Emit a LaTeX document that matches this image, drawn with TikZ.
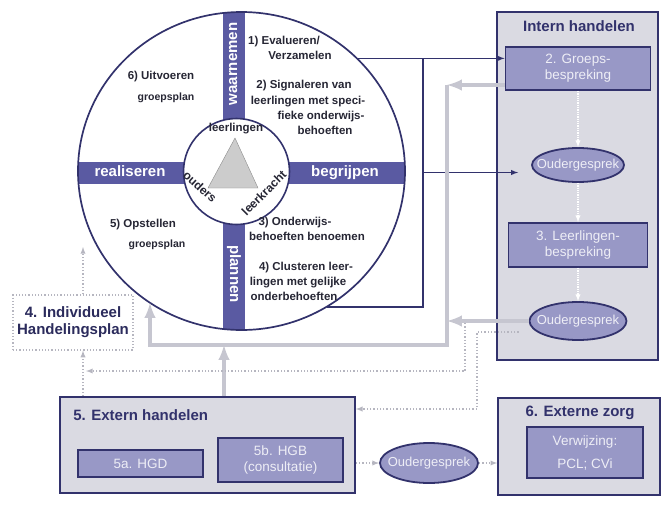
\documentclass[tikz,border=0pt]{standalone}
\usepackage{fontspec}
\setmainfont{Liberation Sans}
\usetikzlibrary{positioning}
\usetikzlibrary{shapes.geometric}

\definecolor{navy}{RGB}{50,50,108}
\definecolor{barblue}{RGB}{90,90,162}
\definecolor{lavender}{RGB}{152,152,198}
\definecolor{panelgrey}{RGB}{218,218,226}
\definecolor{flowgrey}{RGB}{198,198,208}
\definecolor{dotgrey}{RGB}{182,182,192}
\definecolor{paletext}{RGB}{238,238,246}
\definecolor{ink}{RGB}{38,38,52}

\begin{document}
\begin{tikzpicture}[x=1pt, y=-1pt, -latex, on grid, semithick,
                    wheeltext/.style = {font=\bfseries\fontsize{11.5}{13}\selectfont,
                                        text=ink, inner sep=0pt,
                                        text height=8pt, text depth=2.5pt},
                    smalltext/.style = {font=\bfseries\fontsize{10.5}{12}\selectfont,
                                        text=ink, inner sep=0pt,
                                        text height=7.5pt, text depth=2pt},
                    bartext/.style   = {font=\bfseries\fontsize{15}{17}\selectfont,
                                        text=white, inner sep=0pt,
                                        text height=10pt, text depth=3pt},
                    headtext/.style  = {font=\bfseries\fontsize{15}{17}\selectfont,
                                        text=navy, inner sep=0pt, align=center},
                    panel/.style     = {rectangle, draw=navy, fill=panelgrey,
                                        line width=1.6pt},
                    box/.style       = {rectangle, draw=navy, fill=lavender,
                                        line width=1.8pt, text=paletext,
                                        font=\fontsize{13.5}{16}\selectfont,
                                        align=center, inner sep=0pt},
                    oval/.style      = {ellipse, draw=navy, fill=lavender,
                                        line width=1.8pt, inner sep=0pt},
                    ovaltext/.style  = {text=paletext, inner sep=0pt,
                                        font=\fontsize{13}{15}\selectfont},
                    navyline/.style  = {draw=navy, line width=1.4pt},
                    greyflow/.style  = {draw=flowgrey, line width=4pt},
                    dotflow/.style   = {draw=dotgrey, line width=1.3pt, dotted},
                    whiteflow/.style = {draw=white, line width=1.3pt, densely dotted}]

\useasboundingbox (0,0) rectangle (662,504);

% the wheel with its four bars
\begin{scope}
  \clip (241.5,171) ellipse [x radius=163.5, y radius=159];
  \fill[barblue] (222.5,0) rectangle (244.5,340);
  \fill[barblue] (70,161.5) rectangle (420,183.5);
\end{scope}
\node[ellipse, draw=navy, line width=1.7pt,
      minimum width=327pt, minimum height=318pt] (wheel) at (241.5,171) {};
\node[circle, draw=navy, fill=white, line width=1.6pt,
      minimum size=106pt] (hub) at (236.5,171.5) {};
\draw[-, draw=black!45, fill=black!20, thin] (235,138) -- (208,188) -- (258,188) -- cycle;

\node[bartext, rotate=90]  (waar) at (233.5,64)  {waarnemen};
\node[bartext, rotate=-90] (plan) at (233.5,274) {plannen};
\node[bartext] (real) at (130,172.5) {realiseren};
\node[bartext] (begr) at (345,172.5) {begrijpen};

\node[wheeltext] (leer) at (236,129) {leerlingen};
\node[wheeltext, font=\bfseries\fontsize{12}{14}\selectfont, rotate=-42] (ouders) at (199,188) {ouders};
\node[wheeltext, font=\bfseries\fontsize{12}{14}\selectfont, rotate=45] (kracht) at (265,194) {leerkracht};

% the six steps
\node[wheeltext] (e1) at (284,42)  {1) Evalueren/};
\node[wheeltext] (e2) at (300,57)  {Verzamelen};
\node[wheeltext] (s1) at (304,86)  {2) Signaleren van};
\node[wheeltext] (s2) at (308,102) {leerlingen met speci-};
\node[wheeltext] (s3) at (321,117) {fieke onderwijs-};
\node[wheeltext] (s4) at (325,132) {behoeften};
\node[wheeltext] (b1) at (295,223) {3) Onderwijs-};
\node[wheeltext] (b2) at (307,238) {behoeften benoemen};
\node[wheeltext] (c1) at (306,268) {4) Clusteren leer-};
\node[wheeltext] (c2) at (298,283) {lingen met gelijke};
\node[wheeltext] (c3) at (294,298) {onderbehoeften};
\node[wheeltext] (u1) at (161,77)  {6) Uitvoeren};
\node[smalltext] (u2) at (166,98)  {groepsplan};
\node[wheeltext] (p1) at (143,225) {5) Opstellen};
\node[smalltext] (p2) at (157,245) {groepsplan};

% intern handelen
\node[panel, minimum width=161pt, minimum height=348pt] (intern) at (577.5,186) {};
\node[headtext] (interntitle) at (579,26) {Intern handelen};
\node[box, minimum width=145pt, minimum height=43pt] (g2) at (578,68.5) {2. Groeps-\\bespreking};
\node[oval, minimum width=92pt, minimum height=34pt,
      label={[ovaltext]center:Oudergesprek}] (o1) [below=96.5pt of g2] {};
\node[box, minimum width=139pt, minimum height=44pt] (g3) [below=80pt of o1] {3. Leerlingen-\\bespreking};
\node[oval, minimum width=97pt, minimum height=38pt,
      label={[ovaltext]center:Oudergesprek}] (o2) [below=76pt of g3] {};

\draw[whiteflow] (o1 |- g2.south) -- (o1.north);
\draw[whiteflow] (o1.south) -- (o1 |- g3.north);
\draw[whiteflow] (o2 |- g3.south) -- (o2.north);

% individueel handelingsplan
\node[rectangle, draw=dotgrey, dotted, line width=1.2pt,
      minimum width=120pt, minimum height=55pt, align=center,
      font=\bfseries\fontsize{15}{17}\selectfont, text=navy!85!black] (b4) at (73,322.5)
      {4. Individueel\\Handelingsplan};

% extern handelen and externe zorg
\node[panel, minimum width=295pt, minimum height=96pt] (ext) at (207.5,445) {};
\node[headtext, anchor=west] (exttitle) at (73,415) {5. Extern handelen};
\node[box, minimum width=125pt, minimum height=27pt] (h5a) at (140.5,463.5) {5a. HGD};
\node[box, minimum width=125pt, minimum height=44pt] (h5b) at (280.5,460) {5b. HGB\\(consultatie)};
\node[oval, minimum width=98pt, minimum height=40pt,
      label={[ovaltext]center:Oudergesprek}] (o3) at (429,463) {};
\node[panel, minimum width=162pt, minimum height=97pt] (ez) at (579,446.5) {};
\node[headtext] (eztitle) at (580,413) {6. Externe zorg};
\node[box, minimum width=116pt, minimum height=51pt] (verw) at (585,452.5) {Verwijzing:\\[7pt]PCL; CVi};

% connectors
\coordinate (jBot) at (423,307);
\coordinate (gTop) at (447,85);
\coordinate (gBot) at (447,345);
\coordinate (gLeft) at (150,345);
\coordinate (gHit) at (150,303);
\coordinate (dTop) at (83,247);
\coordinate (dA) at (465,323);
\coordinate (dB) at (465,371);
\coordinate (dC) at (477,409);

\draw[navyline] (wheel.44) -- (wheel.44 -| g2.west);
\draw[navyline, -] (wheel.44 -| jBot) -- (jBot) -- (jBot -| wheel.-58);
\draw[navyline] (jBot |- begr) -- ([xshift=-13pt]o1.west |- begr);

\draw[greyflow] (g2.south west |- gTop) -- (gTop);
\draw[greyflow] (gTop) -- (gBot) -- (gLeft) -- (gHit);
\draw[greyflow] (o2.west) -- (o2.west -| gTop);
\draw[greyflow] ([xshift=16.5pt]ext.north) -- ([xshift=16.5pt]ext.north |- gBot);

\draw[dotflow] (dTop |- b4.north) -- (dTop);
\draw[dotflow] (dTop |- ext.north) -- (dTop |- b4.south);
\draw[dotflow] (dA) -- (dB) -- ([xshift=3pt]dTop |- dB);
\draw[dotflow] ([shift={(-10pt,-11pt)}]o2.west) -| (dC) -- (ext.east |- dC);
\draw[dotflow] (ext.east |- o3.west) -- (o3.west);
\draw[dotflow] (o3.east) -- (o3.east -| ez.west);

\end{tikzpicture}
\end{document}
